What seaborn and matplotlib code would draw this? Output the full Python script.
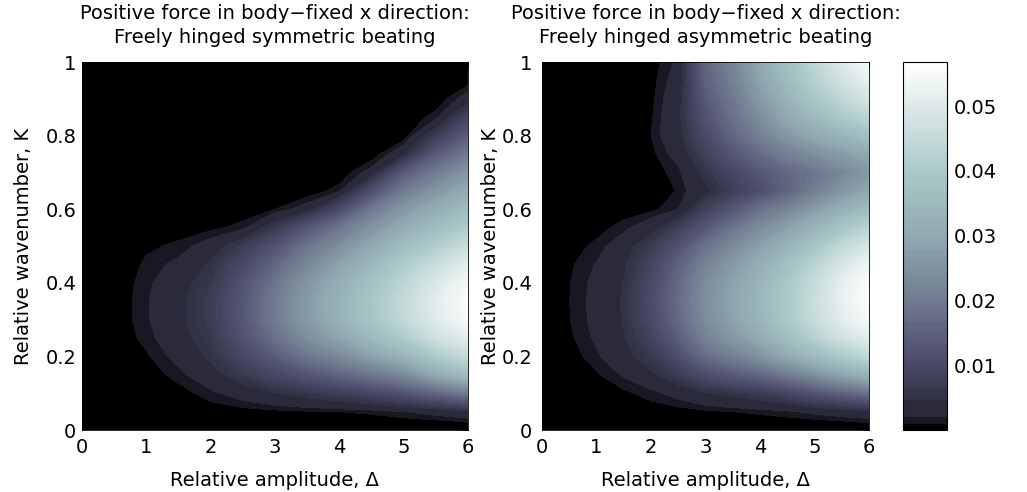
#!/usr/bin/env python3
"""Positive body-fixed x force maps for freely hinged symmetric / asymmetric beating."""

import numpy as np
import matplotlib
matplotlib.use("Agg")
import matplotlib.pyplot as plt
from matplotlib.colors import ListedColormap, BoundaryNorm
import seaborn as sns

# grid
amplitude = [0, 0.5, 1, 1.5, 2, 2.5, 3, 3.5, 4, 4.5, 5, 5.5, 6]
wavenumber = [0, 0.025, 0.05, 0.1, 0.15, 0.2, 0.25, 0.3, 0.35, 0.4, 0.45,
              0.5, 0.55, 0.6, 0.65, 0.7, 0.75, 0.8, 0.85, 0.9, 0.95, 1.0]

# force (x 1e-3), one K-profile per amplitude column
sym_force = [
    [0] * 22,
    [0] * 22,
    [0, 0, 0, 0, 0.2, 0.8, 1.4, 1.75, 1.8, 1.6, 1.2, 0.8, 0.3, 0, 0, 0, 0, 0, 0, 0, 0, 0],
    [0, 0, 0, 0.4, 1.5, 2.6, 3.5, 4.0, 4.0, 3.5, 2.5, 1.2, 0.5, 0, 0, 0, 0, 0, 0, 0, 0, 0],
    [0, 0, 0.3, 1.6, 3.5, 5.2, 6.3, 7.0, 7.0, 6.3, 5.0, 3.0, 0.6, 0.1, 0, 0, 0, 0, 0, 0, 0, 0],
    [0, 0, 0.45, 3.0, 6.5, 9.5, 11.8, 13.0, 13.0, 12.0, 10.0, 7.0, 1.5, 0.1, 0, 0, 0, 0, 0, 0, 0, 0],
    [0, 0, 0.65, 4.5, 9.5, 14, 18, 20, 20, 18.5, 16, 12, 6.5, 1.0, 0, 0, 0, 0, 0, 0, 0, 0],
    [0, 0.1, 0.85, 6, 12.5, 19, 24, 26.5, 27, 25.5, 22.5, 18.5, 13, 3.0, 0, 0, 0, 0, 0, 0, 0, 0],
    [0, 0.2, 1.0, 7.5, 15.5, 23, 29, 32.5, 33, 31.5, 28.5, 24, 19, 10, 1.6, 0, 0, 0, 0, 0, 0, 0],
    [0, 0.3, 1.3, 9.5, 19, 28, 35, 38.5, 39, 37.5, 34.5, 30, 25, 19.5, 11, 2.8, 0, 0, 0, 0, 0, 0],
    [0, 0.5, 2.0, 12, 23, 33, 40.5, 44.5, 45, 43.5, 40.5, 36, 31, 26, 20, 13.5, 3.8, 0, 0, 0, 0, 0],
    [0, 0.8, 2.8, 16, 30, 40, 47, 50.5, 51, 49.5, 46, 41, 36, 31, 25.5, 20, 13.5, 7, 1.5, 0, 0, 0],
    [0, 1.2, 4.0, 20, 36, 45, 51, 55, 56, 54.5, 51, 46, 41, 36, 31, 26, 20, 14, 9, 3, 0.3, 0],
]

asym_force = [
    [0] * 22,
    [0, 0, 0, 0, 0, 0.3, 0.7, 0.92, 0.97, 0.92, 0.75, 0.4, 0.1, 0, 0, 0, 0, 0, 0, 0, 0, 0],
    [0, 0, 0, 0.2, 0.8, 1.7, 2.3, 2.55, 2.6, 2.5, 2.1, 1.3, 0.5, 0.1, 0, 0, 0, 0, 0, 0, 0, 0],
    [0, 0, 0, 0.7, 2.2, 3.6, 4.5, 4.9, 5.0, 4.8, 4.3, 3.3, 1.5, 0.3, 0, 0, 0, 0, 0, 0, 0, 0],
    [0, 0, 0.3, 1.5, 4, 6.5, 8.5, 10, 10.5, 10, 8.8, 6.8, 3.5, 0.6, 0.1, 0.2, 0.6, 1.0, 0.8, 0.6, 0.45, 0.3],
    [0, 0, 0.4, 2.8, 7, 11, 14.5, 16.5, 17, 16.5, 15, 12, 7.5, 2.0, 1.1, 1.6, 2.8, 3.8, 4.0, 3.6, 3.0, 2.4],
    [0, 0, 0.7, 4.5, 11, 17, 21.5, 23.5, 24, 23.5, 21.5, 18, 13, 8, 4, 5.5, 8, 10, 12, 13.5, 15, 16],
    [0, 0.1, 1.0, 5.5, 13.5, 21, 26, 28.5, 29, 28.5, 26.5, 23, 18.5, 13, 7.5, 9.5, 13, 16, 18, 19.5, 21, 22],
    [0, 0.3, 1.3, 7, 16, 25, 30.5, 33.5, 34, 33.5, 31.5, 28, 23.5, 18, 11, 13, 17, 21, 24, 26.5, 28.5, 30],
    [0, 0.5, 1.7, 9, 20, 30, 36.5, 39.5, 40, 39.5, 37, 33, 28, 22, 15.5, 16, 21, 26, 30, 33, 35.5, 37],
    [0, 0.7, 2.5, 12, 24, 35, 42, 45.5, 46, 45.5, 43, 38.5, 33, 27, 20.5, 19, 24, 30, 35, 39, 42, 44],
    [0, 1.0, 3.2, 15, 29, 40, 47.5, 51, 52, 51.5, 49, 44.5, 38.5, 32, 25.5, 22.5, 27, 33.5, 39.5, 44, 47.5, 50],
    [0, 1.3, 4.0, 18, 33, 44, 51, 55, 56.5, 56, 53.5, 49, 43, 36, 30, 26, 30, 37, 43.5, 48.5, 52, 55],
]

titles = ["Freely hinged symmetric beating", "Freely hinged asymmetric beating"]
cbar_ticks = [0.01, 0.02, 0.03, 0.04, 0.05]
ytick_labels = ["0", "0.2", "0.4", "0.6", "0.8", "1"]
cmax = 0.0568

sns.set_style("white", {"text.color": "black", "axes.labelcolor": "black",
                        "xtick.color": "black", "ytick.color": "black",
                        "axes.edgecolor": "black"})
plt.rcParams["font.family"] = ["DejaVu Sans"]

# contour levels and band colours (MATLAB-like bone, brightened at the low end)
levels = np.concatenate([[0, 0.001, 0.002], np.linspace(0.0047, cmax, 62)])
mids = (levels[:-1] + levels[1:]) / 2
shade = np.interp(mids / cmax,
                  [0, 0.026, 0.059, 0.176, 0.35, 0.53, 0.70, 0.88, 1.0],
                  [0, 0.11, 0.19, 0.33, 0.5, 0.65, 0.755, 0.9, 1.0])
bone = sns.color_palette("bone", as_cmap=True)
band_colors = bone(shade)
band_colors[0] = (0, 0, 0, 1)
cmap = ListedColormap(band_colors)
norm = BoundaryNorm(levels, cmap.N)

W, H = 1027, 492
fig = plt.figure(figsize=(W / 100, H / 100), dpi=100)
ax1 = fig.add_axes([82 / W, 62 / H, 386 / W, 368 / H])
ax2 = fig.add_axes([542 / W, 62 / H, 327 / W, 368 / H])
cax = fig.add_axes([903 / W, 62 / H, 44 / W, 368 / H])

fs = 14
for ax, data, sub, ylab_x, ypad in [(ax1, sym_force, titles[0], -0.127, 4),
                                    (ax2, asym_force, titles[1], -0.128, 7)]:
    z = np.array(data).T * 1e-3
    cf = ax.contourf(amplitude, wavenumber, z, levels=levels, cmap=cmap,
                     norm=norm, antialiased=False)
    ax.set_xlim(0, 6)
    ax.set_ylim(0, 1)
    ax.set_xticks(range(7))
    ax.set_yticks([0, 0.2, 0.4, 0.6, 0.8, 1])
    ax.set_yticklabels(ytick_labels)
    ax.tick_params(direction="in", length=4, width=0.6, top=True, right=True,
                   labelsize=fs, color="black")
    ax.tick_params(axis="x", pad=6)
    ax.tick_params(axis="y", pad=ypad)
    ax.set_title("Positive force in body\u2212fixed x direction:\n" + sub,
                 fontsize=fs, pad=14, linespacing=1.3)
    ax.set_xlabel("Relative amplitude, \u0394", fontsize=fs, labelpad=10)
    ax.set_ylabel("Relative wavenumber, K", fontsize=fs)
    ax.yaxis.set_label_coords(ylab_x, 0.5)
    for sp in ax.spines.values():
        sp.set_linewidth(0.6)
        sp.set_color("black")

cbar = fig.colorbar(cf, cax=cax, spacing="proportional", ticks=cbar_ticks)
cbar.ax.set_ylim(0, cmax)
cbar.ax.minorticks_off()
cbar.ax.tick_params(direction="in", length=4, width=0.6, left=True, right=True,
                    labelsize=fs, pad=5)
cbar.outline.set_linewidth(0.8)

fig.savefig("out.png", dpi=100)
plt.close(fig)
